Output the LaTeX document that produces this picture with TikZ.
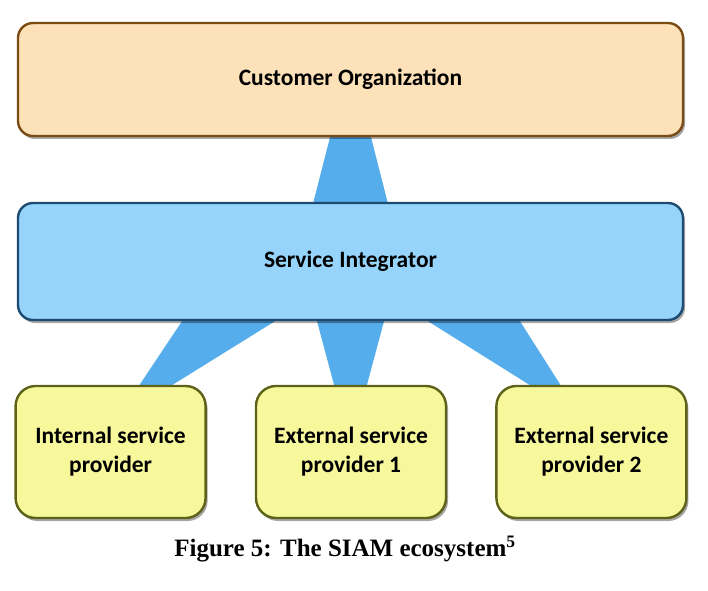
\documentclass[tikz,border=0pt]{standalone}
\usepackage{fontspec}
\setmainfont{Carlito}
\newfontfamily\capfont{Liberation Serif}
\usetikzlibrary{positioning,shadows,calc,backgrounds}
\definecolor{customer fill}{HTML}{FDE1B9}
\definecolor{customer edge}{HTML}{7A4C14}
\definecolor{integrator fill}{HTML}{96D4FB}
\definecolor{integrator edge}{HTML}{1E4B70}
\definecolor{provider fill}{HTML}{F7F79C}
\definecolor{provider edge}{HTML}{5E6118}
\definecolor{link fill}{HTML}{56ADEB}
\tikzset{box/.style={rounded corners=15pt, line width=2.4pt, align=center,
        font=\fontsize{23.5}{29}\selectfont\bfseries,
        drop shadow={shadow xshift=2pt, shadow yshift=-3pt, fill=black, opacity=0.35}},
    customer/.style={box, fill=customer fill, draw=customer edge,
        minimum width=665pt, minimum height=113pt},
    integrator/.style={box, fill=integrator fill, draw=integrator edge,
        minimum width=665pt, minimum height=117pt},
    provider/.style={box, fill=provider fill, draw=provider edge, rounded corners=20pt,
        minimum width=190pt, minimum height=132pt},
    link/.style={fill=link fill}}

\begin{document}
\begin{tikzpicture}[x=1pt, y=1pt]
    \useasboundingbox (0,0) rectangle (708,590);
    \node[customer] (co) at (350.5,510.5) {Customer Organization};
    \node[integrator, below=64.6pt of co] (si) {Service Integrator};
    \node[provider, below=63.6pt of si.south, anchor=north, xshift=0.5pt] (ext1) {External service\\provider 1};
    \node[provider, left=48pt of ext1] (int) {Internal service\\provider};
    \node[provider, right=48pt of ext1] (ext2) {External service\\provider 2};
    \begin{pgfonlayer}{background}
        \fill[link] ($(co.south)+(-20.5,0)$) -- ($(co.south)+(20.5,0)$)
            -- ($(si.north)+(37,0)$) -- ($(si.north)+(-37,0)$) -- cycle;
        \fill[link] ($(si.south)+(-168.5,0)$) -- ($(si.south)+(-75.5,0)$)
            -- ($(int.north)+(62,0)$) -- ($(int.north)+(29,0)$) -- cycle;
        \fill[link] ($(si.south)+(-33.5,0)$) -- ($(si.south)+(33.5,0)$)
            -- ($(ext1.north)+(16,0)$) -- ($(ext1.north)+(-17,0)$) -- cycle;
        \fill[link] ($(si.south)+(77.5,0)$) -- ($(si.south)+(169.5,0)$)
            -- ($(ext2.north)+(-31,0)$) -- ($(ext2.north)+(-62,0)$) -- cycle;
    \end{pgfonlayer}
    \node[below=13pt of ext1, xshift=-6pt, font=\capfont\fontsize{25}{28}\selectfont\bfseries] (caption)
        {Figure 5: The SIAM ecosystem\textsuperscript{5}};
\end{tikzpicture}
\end{document}
